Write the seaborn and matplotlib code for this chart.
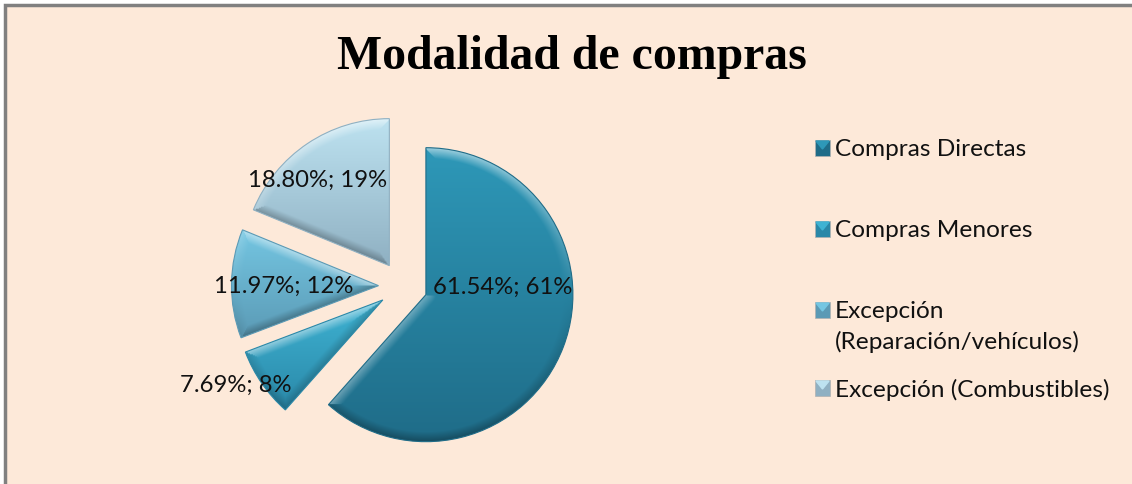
import numpy as np
import matplotlib.pyplot as plt
from matplotlib.colors import to_rgb
from matplotlib.patches import Rectangle
import seaborn as sns

title = "Modalidad de compras"
categories = ['Compras Directas', 'Compras Menores',
              'Excepción\n(Reparación/vehículos)', 'Excepción (Combustibles)']
values = [61.54, 7.69, 11.97, 18.80]
rounded = [61, 8, 12, 19]

# gradient colours per slice, top then bottom
top_colors = ['#2e98b8', '#3fb3d3', '#74c6e2', '#bde2f0']
bottom_colors = ['#1f6c88', '#2a88a8', '#5b9ab5', '#8fb0c2']

BG = '#fde9d9'
W, H = 1132, 484

sns.set_theme(style='white')
plt.rcParams['font.family'] = ['Lato', 'DejaVu Sans']

fig = plt.figure(figsize=(W / 100, H / 100), dpi=100, facecolor='white')
ax = fig.add_axes([0, 0, 1, 1])

# explode is in data units here, and the axes are in pixels
wedges, _ = ax.pie(values, startangle=90, counterclock=False, radius=147,
                   center=(403, H - 286), explode=[24.5] * 4,
                   colors=top_colors, frame=True)
ax.set_aspect('auto')
ax.axis('off')

# panel behind everything
ax.add_patch(Rectangle((5, -5), W, H, fc=BG, ec='#808080', lw=2.5, zorder=0))


def edge_distance(dx, dy, rho, angle):
    # distance to the straight edge running out from the apex at this angle
    ux, uy = np.cos(angle), np.sin(angle)
    along = dx * ux + dy * uy
    return np.where(along > 0, np.abs(dx * uy - dy * ux), rho)


def shade_wedge(w, top, bottom, bevel=10):
    # vertical gradient over the slice plus a bevelled rim lit from above
    cx, cy = w.center
    r = w.r
    x, y = np.meshgrid(np.arange(cx - r - 2, cx + r + 2),
                       np.arange(cy - r - 2, cy + r + 2))
    dx, dy = x - cx, y - cy
    rho = np.hypot(dx, dy) + 1e-6
    ext = w.get_path().get_extents(w.get_patch_transform())
    t = np.clip((ext.y1 - y) / ext.height, 0, 1)[..., None]
    rgb = np.array(to_rgb(top)) * (1 - t) + np.array(to_rgb(bottom)) * t

    # distance to arc and straight edges, with the outward normal of each
    a1, a2 = np.radians(w.theta1), np.radians(w.theta2)
    stack = np.stack([r - rho, edge_distance(dx, dy, rho, a1), edge_distance(dx, dy, rho, a2)])
    near = stack.argmin(axis=0)
    dist = stack.min(axis=0)
    ny = np.choose(near, [dy / rho, np.full_like(dy, -np.cos(a1)), np.full_like(dy, np.cos(a2))])

    band = np.clip(1 - dist / bevel, 0, 1)[..., None]
    light = ny[..., None]
    lit = np.clip(light, 0, 1) * band * 0.5
    dark = np.clip(-light, 0, 1) * band * 0.3
    rgb = rgb + (1 - rgb) * lit
    rgb = rgb * (1 - dark)

    im = ax.imshow(rgb, origin='lower', extent=(x.min(), x.max(), y.min(), y.max()),
                   aspect='auto', zorder=2, interpolation='bilinear')
    im.set_clip_path(w)
    w.set_facecolor('none')
    w.set_edgecolor(bottom)
    w.set_linewidth(0.8)
    w.set_zorder(3)


for w, top, bottom in zip(wedges, top_colors, bottom_colors):
    shade_wedge(w, top, bottom)
ax.set_xlim(0, W)
ax.set_ylim(0, H)

ax.text(572, H - 57, title, family='Liberation Serif', weight='bold', fontsize=34.4,
        color='black', ha='center', va='center', zorder=5)

label_pos = [(503, 287), (236, 385), (284, 286), (318, 180)]
for v, n, (lx, ly) in zip(values, rounded, label_pos):
    ax.text(lx, H - ly, f'{v:.2f}%; {n}%', fontsize=17.2, color='#111111',
            ha='center', va='center', zorder=5)

# legend, rows are not evenly spaced once a label wraps
legend_y = [148, 229, 310, 388]
for name, yy, top, bottom in zip(categories, legend_y, top_colors, bottom_colors):
    ax.add_patch(Rectangle((815, H - yy - 8), 15, 16, fc=bottom, ec='#b0b0b0', lw=0.5, zorder=4))
    ax.fill([816, 829, 822.5], [H - yy + 7, H - yy + 7, H - yy - 1], color=top, zorder=5)
    ax.text(835, H - yy + 9, name, fontsize=17.6, color='#111111', ha='left', va='top',
            linespacing=1.5, zorder=5)

fig.savefig('out.png', dpi=100, facecolor='white')
